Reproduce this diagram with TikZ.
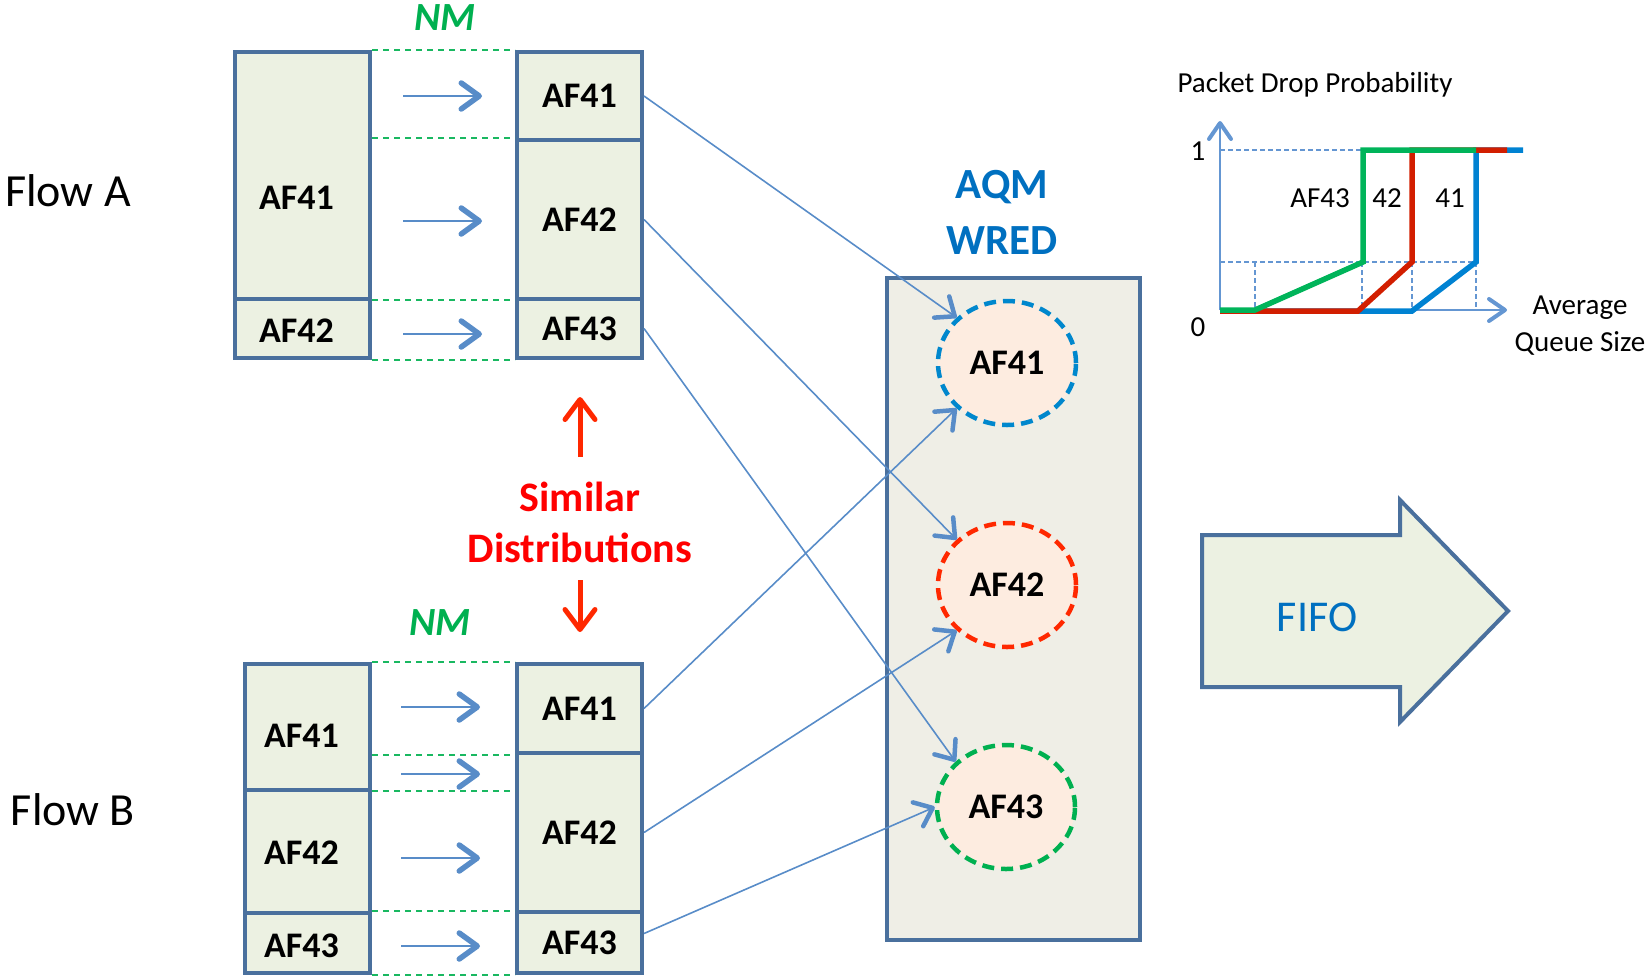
\documentclass[tikz,border=0pt]{standalone}
\usepackage{fontspec}
\setmainfont{Carlito}
\usetikzlibrary{arrows.meta,shapes.geometric}

\definecolor{boxline}{RGB}{74,112,157}
\definecolor{boxfill}{RGB}{236,241,226}
\definecolor{aqmfill}{RGB}{239,238,230}
\definecolor{circfill}{RGB}{253,236,224}
\definecolor{linkblue}{RGB}{88,140,200}
\definecolor{nmgreen}{RGB}{0,176,80}
\definecolor{titleblue}{RGB}{0,112,192}
\definecolor{circblue}{RGB}{0,135,205}
\definecolor{circred}{RGB}{255,40,0}
\definecolor{circgreen}{RGB}{0,176,80}
\definecolor{simred}{RGB}{255,0,0}
\definecolor{arrred}{RGB}{255,40,0}
\definecolor{curvered}{RGB}{210,30,0}
\definecolor{curveblue}{RGB}{0,130,210}
\definecolor{curvegreen}{RGB}{0,180,90}
\definecolor{axisblue}{RGB}{100,150,210}

\tikzset{
  qbox/.style={draw=boxline, fill=boxfill, line width=4pt, inner sep=0pt,
    font=\fontsize{36}{40}\selectfont\bfseries},
  boxtext/.style={font=\fontsize{36}{40}\selectfont\bfseries, inner sep=0pt},
  nmline/.style={draw=nmgreen!90!white, line width=1.6pt, dash pattern=on 6pt off 5pt},
  nmarrow/.style={draw=linkblue, line width=2pt,
    -{Straight Barb[length=18pt,width=26pt,line width=5.5pt,round]}},
  link/.style={draw=linkblue, line width=1.6pt,
    -{Straight Barb[length=16pt,width=26pt,line width=4.5pt,round]}},
  queue/.style={ellipse, line width=4.5pt, fill=circfill, minimum width=138pt,
    minimum height=124pt, inner sep=0pt, dash pattern=on 12pt off 7pt,
    font=\fontsize{36}{40}\selectfont\bfseries},
  redarrow/.style={draw=arrred, line width=5pt,
    -{Straight Barb[length=20pt,width=30pt,line width=5pt,round]}},
  flowlbl/.style={font=\fontsize{46}{50}\selectfont, inner sep=0pt},
  nmlbl/.style={font=\fontsize{40}{44}\selectfont\bfseries\itshape, text=nmgreen, inner sep=0pt},
  charttext/.style={font=\fontsize{29}{32}\selectfont, inner sep=0pt},
  axis/.style={draw=axisblue, line width=1.6pt,
    -{Straight Barb[length=16pt,width=22pt,line width=4pt,round]}},
  guide/.style={draw=axisblue, line width=1.2pt, dash pattern=on 5pt off 3pt},
  curve/.style={line width=5.5pt, line join=miter},
}

\begin{document}
\begin{tikzpicture}[x=1pt,y=-1pt]
\useasboundingbox (0,0) rectangle (1646,975);

% ---------- Flow A ----------
\node[flowlbl] (flowA) at (68,191) {Flow A};
\node[qbox, minimum width=135pt, minimum height=247pt,
      label={[boxtext, xshift=-6pt, yshift=-22pt]center:AF41}] (la1) at (302.5,175.5) {};
\node[qbox, minimum width=135pt, minimum height=59pt,
      label={[boxtext, xshift=-6pt, yshift=-2pt]center:AF42}] (la2) at (302.5,328.5) {};
\node[qbox, minimum width=125pt, minimum height=88pt] (ra1) at (579.5,96) {AF41};
\node[qbox, minimum width=125pt, minimum height=159pt] (ra2) at (579.5,219.5) {AF42};
\node[qbox, minimum width=125pt, minimum height=59pt] (ra3) at (579.5,328.5) {AF43};

\node[nmlbl] (nmA) at (445,18) {NM};
\draw[nmline] (la1.north east) -- (ra1.north west);
\draw[nmline] (372,138) -- (515,138);
\draw[nmline] (372,300) -- (515,300);
\draw[nmline] (la2.south east) -- (ra3.south west);
\foreach \y in {96,221,334} {
  \coordinate (na\y) at (403,\y);
  \coordinate (nb\y) at (482,\y);
  \draw[nmarrow] (na\y) -- (nb\y);
}

% ---------- Flow B ----------
\node[flowlbl] (flowB) at (73,810) {Flow B};
\node[qbox, minimum width=125pt, minimum height=126pt,
      label={[boxtext, xshift=-6pt, yshift=-9pt]center:AF41}] (lb1) at (307.5,727) {};
\node[qbox, minimum width=125pt, minimum height=123pt,
      label={[boxtext, xshift=-6pt, yshift=-1pt]center:AF42}] (lb2) at (307.5,851.5) {};
\node[qbox, minimum width=125pt, minimum height=60pt,
      label={[boxtext, xshift=-6pt, yshift=-3pt]center:AF43}] (lb3) at (307.5,943) {};
\node[qbox, minimum width=125pt, minimum height=89pt] (rb1) at (579.5,708.5) {AF41};
\node[qbox, minimum width=125pt, minimum height=159pt] (rb2) at (579.5,832.5) {AF42};
\node[qbox, minimum width=125pt, minimum height=61pt] (rb3) at (579.5,942.5) {AF43};

\node[nmlbl] (nmB) at (440,623) {NM};
\draw[nmline] (lb1.north east) -- (rb1.north west);
\draw[nmline] (372,755) -- (515,755);
\draw[nmline] (372,791) -- (515,791);
\draw[nmline] (372,911) -- (515,911);
\draw[nmline] (lb3.south east) -- (rb3.south west);
\foreach \y in {707,774,858,946} {
  \coordinate (ma\y) at (401,\y);
  \coordinate (mb\y) at (480,\y);
  \draw[nmarrow] (ma\y) -- (mb\y);
}

% ---------- similar distributions ----------
\node[font=\fontsize{42}{46}\selectfont\bfseries, text=simred, inner sep=0pt] (sim1) at (580,497) {Similar};
\node[font=\fontsize{42}{46}\selectfont\bfseries, text=simred, inner sep=0pt] (sim2) at (580,548) {Distributions};
\coordinate (upA) at (580,457);
\coordinate (upB) at (580,397);
\coordinate (dnA) at (580,580);
\coordinate (dnB) at (580,632);
\draw[redarrow] (upA) -- (upB);
\draw[redarrow] (dnA) -- (dnB);

% ---------- AQM / WRED ----------
\node[font=\fontsize{43}{46}\selectfont\bfseries, text=titleblue, inner sep=0pt] (aqm) at (1002,187) {AQM};
\node[font=\fontsize{43}{46}\selectfont\bfseries, text=titleblue, inner sep=0pt] (wred) at (1002,241) {WRED};
\node[draw=boxline, fill=aqmfill, line width=4pt, minimum width=253pt, minimum height=662pt,
      inner sep=0pt] (aqmbox) at (1013.5,609) {};
\node[queue, draw=circblue] (c41) at (1007,363) {AF41};
\node[queue, draw=circred] (c42) at (1007,585) {AF42};
\node[queue, draw=circgreen] (c43) at (1006,807) {AF43};

% ---------- links into the queues ----------
\draw[link] (ra1.east) -- (c41.north west);
\draw[link] (ra2.east) -- (c42.north west);
\draw[link] (ra3.east) -- (c43.north west);
\draw[link] (rb1.east) -- (c41.south west);
\draw[link] (rb2.east) -- (c42.south west);
\draw[link] ([yshift=9pt]rb3.east) -- (c43.west);

% ---------- FIFO output ----------
\draw[boxline, fill=boxfill, line width=4pt, line join=miter]
  (1202,535) -- (1400,535) -- (1400,500) -- (1508,611) -- (1400,722) -- (1400,687)
  -- (1202,687) -- cycle;
\node[font=\fontsize{44}{48}\selectfont, text=titleblue, inner sep=0pt] (fifo) at (1317,617) {FIFO};

% ---------- WRED drop profile ----------
\node[charttext] (ptitle) at (1315,85) {Packet Drop Probability};
\node[charttext] (one) at (1198,151) {1};
\node[charttext] (zero) at (1198,327) {0};
\node[charttext] (xl1) at (1580,308) {Average};
\node[charttext] (xl2) at (1580,343) {Queue Size};
\node[charttext] (l43) at (1320,198) {AF43};
\node[charttext] (l42) at (1387,198) {42};
\node[charttext] (l41) at (1450,198) {41};

\coordinate (org) at (1220,310);
\coordinate (ytip) at (1220,121);
\coordinate (xtip) at (1507,310);
\draw[guide] (1220,150) -- (1363,150);
\draw[guide] (1220,262) -- (1476,262);
\draw[guide] (1255,262) -- (1255,310);
\draw[guide] (1362,262) -- (1362,310);
\draw[guide] (1412,262) -- (1412,310);
\draw[guide] (1476,262) -- (1476,310);
\draw[axis] (org) -- (ytip);
\draw[axis] (org) -- (xtip);

\draw[curve, curveblue] (1220,311) -- (1412,311) -- (1476,262) -- (1476,150) -- (1523,150);
\draw[curve, curvered] (1220,311) -- (1358,311) -- (1412,262) -- (1412,150) -- (1507,150);
\draw[curve, curvegreen] (1220,310) -- (1255,310) -- (1363,262) -- (1363,150) -- (1476,150);

\end{tikzpicture}
\end{document}
